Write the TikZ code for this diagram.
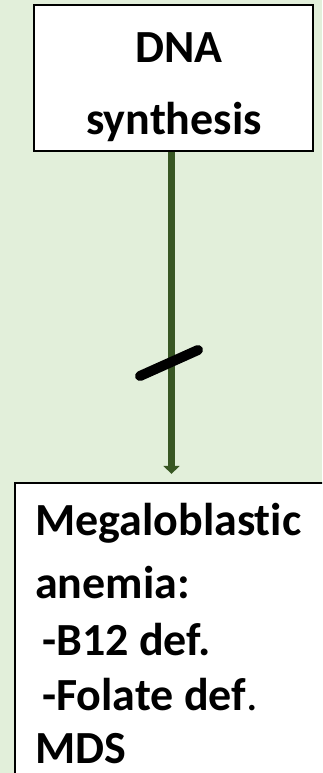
\documentclass[tikz,border=0pt]{standalone}
\usepackage{fontspec}
\setmainfont[Ligatures=NoCommon]{Carlito}
\usetikzlibrary{arrows.meta}
\definecolor{bgcol}{HTML}{E2EFDA}
\definecolor{arrgreen}{HTML}{385723}
\begin{document}
\begin{tikzpicture}[x=1pt,y=-1pt,
  box/.style={draw=black, line width=2.2pt, fill=white, inner sep=0pt},
  lbl/.style={font=\fontsize{46}{55}\selectfont\bfseries, inner sep=0pt},
  arr/.style={draw=arrgreen, line width=7pt, -{Triangle[width=16pt,length=8pt]}},
  slashline/.style={draw=black, line width=10pt, line cap=round}]
\useasboundingbox (0,0) rectangle (322,773);
\clip (0,0) rectangle (322,773);
\fill[bgcol] (0,0) rectangle (322,773);
% boxes
\node[box, minimum width=279pt, minimum height=146pt] (dna) at (173.5,78) {};
\node[box, minimum width=330pt, minimum height=320pt] (meg) at (180,643) {};
% texts
\node[lbl, anchor=base] (t1) at (179,63) {DNA};
\node[lbl, anchor=base] (t2) at (174,135) {synthesis};
\node[lbl, anchor=base west] (m1) at (35,535) {Megaloblast\kern0pt ic};
\node[lbl, anchor=base west] (m2) at (35,598) {anemia:};
\node[lbl, anchor=base west] (m3) at (42,655) {-B12 def.};
\node[lbl, anchor=base west] (m4) at (42,710) {-Folate def{\mdseries .}};
\node[lbl, anchor=base west] (m5) at (35,763) {MDS};
% connector
\coordinate (ax) at (171.5,0);
\draw[arr, shorten >=8pt] (dna.south -| ax) -- (meg.north -| ax);
% inhibition slash
\draw[slashline] (140,376) -- (198,350);
\end{tikzpicture}
\end{document}
